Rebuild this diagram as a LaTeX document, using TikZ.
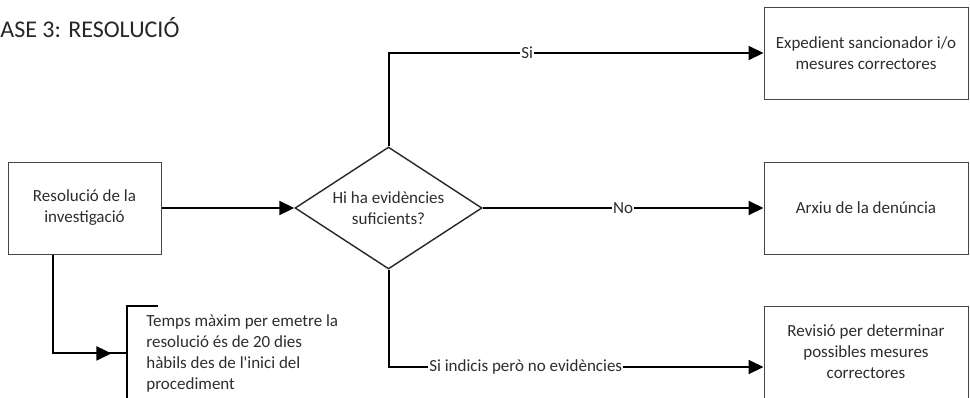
\documentclass[tikz,border=0pt]{standalone}
\usepackage{fontspec}
\setmainfont{Carlito}
\usetikzlibrary{arrows.meta,shapes.geometric,decorations.markings}
\definecolor{txtgray}{RGB}{45,45,45}
\definecolor{linegray}{RGB}{70,70,70}

\begin{document}
\begin{tikzpicture}[x=0.5pt, y=-0.5pt,
  font=\fontsize{8.5}{10.5}\selectfont, text=txtgray,
  box/.style={draw=linegray, line width=0.5pt, minimum width=102pt,
    minimum height=46pt, align=center, inner sep=2pt},
  decision/.style={diamond, draw=black!85, line width=0.7pt, minimum width=93.5pt,
    minimum height=61pt, shape aspect=1.53, inner sep=0pt, align=center},
  conn/.style={line width=1pt, -{Triangle[length=7.5pt,width=7pt]}},
  lbl/.style={fill=white, inner sep=0.6pt},
  note/.style={inner xsep=9.5pt, inner ysep=0pt, minimum height=47pt, align=left}]
  %% page size, px units
  \useasboundingbox (0,0) rectangle (970,397);
  \clip (0,0) rectangle (970,397);
  %% title
  \node[anchor=west, inner sep=0pt, text=black!85,
    font=\fontsize{12}{14}\selectfont] (title) at (0,28) {ASE 3: RESOLUCIÓ};
  %% boxes
  \node[box, minimum width=76.5pt] (resol) at (84.5,208) {Resolució de la\\investigació};
  \node[decision] (dia) at (388.5,208) {Hi ha evidències\\suficients?};
  % right column
  \node[box] (exped) at (866,53) {Expedient sancionador i/o\\mesures correctores};
  \node[box] (arxiu) at (866,208) {Arxiu de la denúncia};
  \node[box] (revis) at (866,352) {Revisió per determinar\\possibles mesures\\correctores};
  % annotation
  \node[note, anchor=north west] (temps) at (127,306)
    {Temps màxim per emetre la\\resolució és de 20 dies\\hàbils des de
     l\textquotesingle inici del\\procediment};
  \draw[line width=1pt] ([xshift=15.5pt]temps.north west) -- (temps.north west)
    -- (temps.south west);
  %% connectors
  \draw[conn] (resol.east) -- (dia.west);
  \draw[conn] (dia.north) |- node[lbl, pos=0.685] {Si} (exped.west);
  \draw[conn] (dia.east) -- node[lbl] {No} (arxiu.west);
  \draw[conn] (dia.south) |- node[lbl, pos=0.683] {Si indicis però no evidències}
    ([yshift=-7.5pt]revis.west);
  \draw[line width=1pt, decoration={markings,
      mark=at position 0.91 with {\arrow{Triangle[length=7.5pt,width=7pt]}}},
    postaction={decorate}] ([xshift=22.5pt]resol.south west) |- (temps.west);
\end{tikzpicture}
\end{document}
